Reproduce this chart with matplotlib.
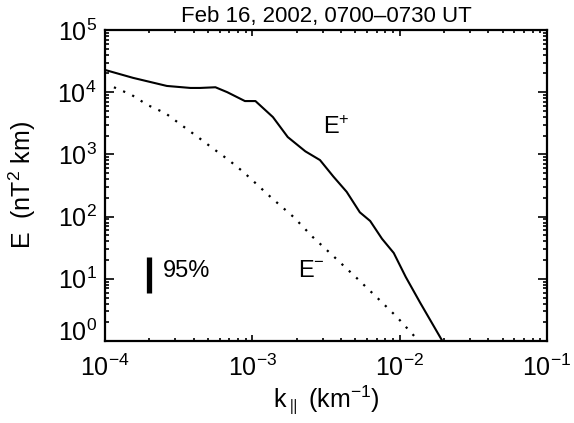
import matplotlib
matplotlib.use('Agg')
import matplotlib.pyplot as plt
import matplotlib.ticker as mticker

plt.rcParams['font.family'] = ['Liberation Sans', 'DejaVu Sans']
plt.rcParams['mathtext.fontset'] = 'custom'
plt.rcParams['mathtext.rm'] = 'Liberation Sans'
plt.rcParams['mathtext.it'] = 'Liberation Sans:italic'
plt.rcParams['mathtext.default'] = 'regular'

# E+ (solid)
k_plus = [1.00e-4, 1.55e-4, 2.63e-4, 3.80e-4, 4.42e-4, 5.62e-4, 6.76e-4, 8.91e-4,
          1.05e-3, 1.38e-3, 1.74e-3, 2.29e-3, 2.88e-3, 3.55e-3, 4.37e-3, 5.37e-3,
          6.31e-3, 7.59e-3, 9.12e-3, 1.10e-2, 1.38e-2, 1.95e-2]
e_plus = [2.28e4, 1.70e4, 1.26e4, 1.17e4, 1.17e4, 1.20e4, 1.00e4, 7.2e3,
          7.2e3, 3.98e3, 1.9e3, 1.12e3, 8.1e2, 4.4e2, 2.5e2, 1.17e2,
          85, 44, 26, 10.7, 4.1, 1.0]

# E- (dotted)
k_minus = [1.15e-4, 1.51e-4, 1.95e-4, 2.57e-4, 3.31e-4, 4.27e-4, 5.37e-4, 6.92e-4,
           8.71e-4, 1.35e-3, 1.91e-3, 2.57e-3, 3.63e-3, 5.13e-3, 7.08e-3, 9.55e-3,
           1.29e-2]
e_minus = [1.2e4, 9.1e3, 6.2e3, 4.6e3, 2.95e3, 1.9e3, 1.26e3, 8.1e2,
           5.2e2, 2.0e2, 98, 47, 22, 10.2, 4.9, 2.45, 1.12]

# 95% confidence bar
bar_k = 2.0e-4
bar_e = [5.8, 22.4]

fig = plt.figure(figsize=(5.74, 4.23), dpi=100)
ax = fig.add_axes([0.1829, 0.1939, 0.770, 0.7352])

ax.plot(k_plus, e_plus, color='black', lw=1.5)
ax.plot(k_minus, e_minus, color='black', lw=1.6, linestyle=(0, (1, 3.5)))
ax.plot([bar_k, bar_k], bar_e, color='black', lw=3.8, solid_capstyle='butt')

ax.text(2.48e-4, 13.5, '95%', fontsize=17, va='center', ha='left')
ax.text(3.0e-3, 2.75e3, '$E^{+}$', fontsize=17, va='center', ha='left')
ax.text(2.04e-3, 13.5, '$E^{-}$', fontsize=17, va='center', ha='left')

ax.set_xscale('log')
ax.set_yscale('log')
ax.set_xlim(1e-4, 1e-1)
ax.set_ylim(1, 1e5)

ax.xaxis.set_major_locator(mticker.LogLocator(base=10, numticks=10))
ax.xaxis.set_minor_locator(mticker.LogLocator(base=10, subs=range(2, 10), numticks=10))
ax.yaxis.set_major_locator(mticker.LogLocator(base=10, numticks=10))
ax.yaxis.set_minor_locator(mticker.LogLocator(base=10, subs=range(2, 10), numticks=10))

ax.tick_params(axis='both', which='both', direction='in', top=True, right=True,
               width=1.2, labelsize=18)
ax.tick_params(axis='x', which='major', length=4.5, pad=10)
ax.tick_params(axis='x', which='minor', length=2.2)
ax.tick_params(axis='y', which='major', length=6.4, pad=6)
ax.tick_params(axis='y', which='minor', length=3.2)
for s in ax.spines.values():
    s.set_linewidth(1.6)

fig.canvas.draw()
for lab in ax.get_yticklabels():
    if lab.get_position()[1] == 1:
        lab.set_verticalalignment('baseline')

ax.set_title('Feb 16, 2002, 0700\u20130730 UT', fontsize=16, pad=6)
ax.set_xlabel('$k_{\\parallel}$ (km$^{-1}$)', fontsize=18, labelpad=2)
ax.set_ylabel('E  (nT$^{2}$ km)', fontsize=18, labelpad=14)

fig.savefig('out.png', dpi=100)
